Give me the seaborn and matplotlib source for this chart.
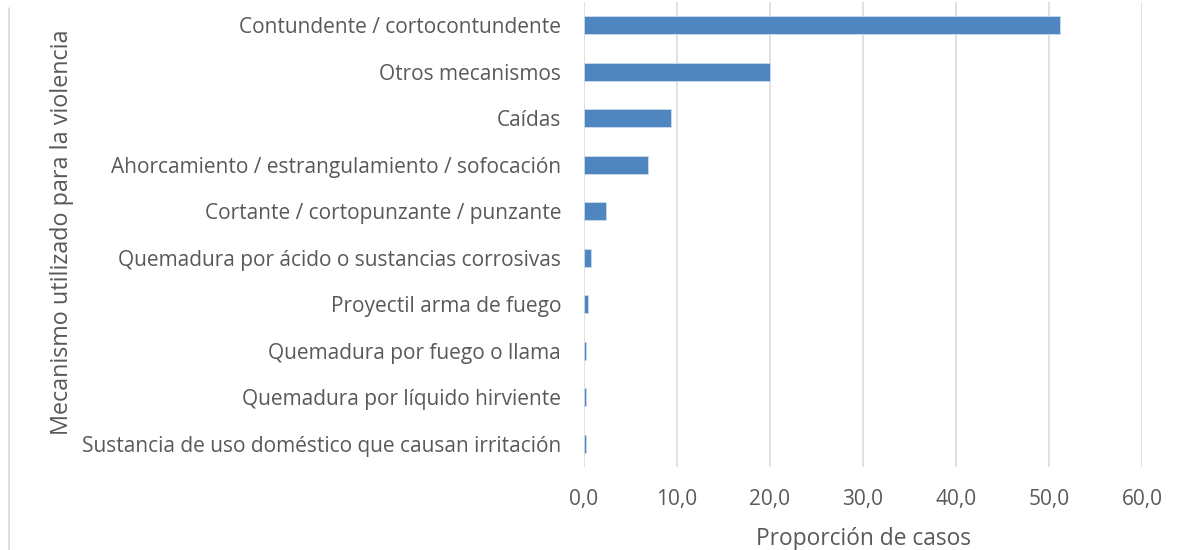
import matplotlib
matplotlib.use("Agg")
import matplotlib.pyplot as plt
import seaborn as sns
import pandas as pd
from matplotlib.lines import Line2D

categories = [
    "Contundente / cortocontundente",
    "Otros mecanismos",
    "Caídas",
    "Ahorcamiento / estrangulamiento / sofocación",
    "Cortante / cortopunzante / punzante",
    "Quemadura por ácido o sustancias corrosivas",
    "Proyectil arma de fuego",
    "Quemadura por fuego o llama",
    "Quemadura por líquido hirviente",
    "Sustancia de uso doméstico que causan irritación",
]
values = [51.2, 20.0, 9.4, 6.9, 2.4, 0.7, 0.4, 0.2, 0.2, 0.2]
x_ticks = [0, 10, 20, 30, 40, 50, 60]
x_tick_labels = ["0,0", "10,0", "20,0", "30,0", "40,0", "50,0", "60,0"]

df = pd.DataFrame({"mecanismo": categories, "proporcion": values})

sns.set_theme(style="white")
plt.rcParams["font.family"] = ["Open Sans", "DejaVu Sans"]

fig = plt.figure(figsize=(11.77, 5.5), dpi=100)
ax = fig.add_axes([584 / 1177, 1 - 467 / 550, (1142 - 584) / 1177, 465 / 550])

sns.barplot(data=df, x="proporcion", y="mecanismo", orient="h",
            color="#4f86c0", width=0.39, edgecolor="#c9daee", linewidth=0.6,
            saturation=1, ax=ax, zorder=3)

ax.set_xlim(0, 60)
ax.set_xticks(x_ticks)
ax.set_xticklabels(x_tick_labels)
ax.grid(axis="x", color="#d9d9d9", linewidth=1.1, zorder=0)
ax.grid(axis="y", visible=False)
for s in ax.spines.values():
    s.set_visible(False)
ax.tick_params(axis="both", length=0, colors="#595959", labelsize=15.0)
ax.tick_params(axis="x", pad=16)
ax.tick_params(axis="y", pad=16.5)

ax.set_xlabel("Proporción de casos", fontsize=16.4, color="#595959", labelpad=12)
ax.set_ylabel("")
fig.text(62 / 1177, 1 - 232 / 550, "Mecanismo utilizado para la violencia",
         rotation=90, ha="center", va="center", fontsize=16.8, color="#595959")

fig.add_artist(Line2D([9 / 1177, 9 / 1177], [0, 1 - 8 / 550],
                      color="#d9d9d9", linewidth=1.2, transform=fig.transFigure))

fig.savefig("out.png", dpi=100)
